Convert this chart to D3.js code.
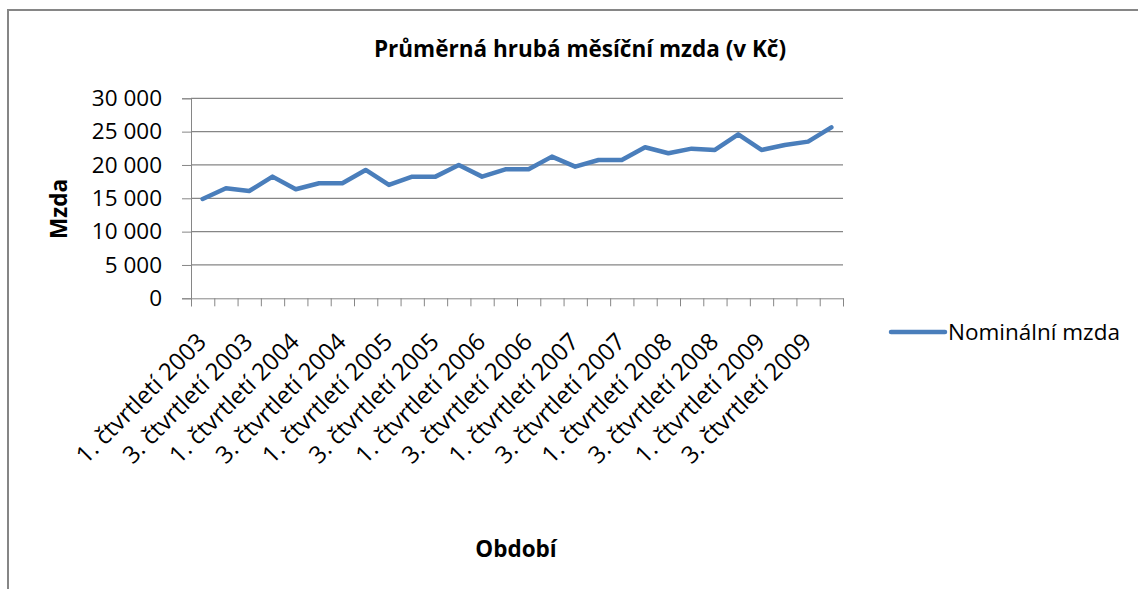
<!DOCTYPE html>
<html lang="cs">
<head>
<meta charset="UTF-8">
<title>Průměrná hrubá měsíční mzda</title>
<script src="https://cdn.jsdelivr.net/npm/d3@7"></script>
<style>
  body { margin: 0; background: #fff; }
  svg text { font-family: "Open Sans", sans-serif; fill: #000; }
</style>
</head>
<body>
<div id="chart"></div>
<script>
// quarters on the x axis
var quarters = [
  "1. čtvrtletí 2003", "2. čtvrtletí 2003", "3. čtvrtletí 2003", "4. čtvrtletí 2003",
  "1. čtvrtletí 2004", "2. čtvrtletí 2004", "3. čtvrtletí 2004", "4. čtvrtletí 2004",
  "1. čtvrtletí 2005", "2. čtvrtletí 2005", "3. čtvrtletí 2005", "4. čtvrtletí 2005",
  "1. čtvrtletí 2006", "2. čtvrtletí 2006", "3. čtvrtletí 2006", "4. čtvrtletí 2006",
  "1. čtvrtletí 2007", "2. čtvrtletí 2007", "3. čtvrtletí 2007", "4. čtvrtletí 2007",
  "1. čtvrtletí 2008", "2. čtvrtletí 2008", "3. čtvrtletí 2008", "4. čtvrtletí 2008",
  "1. čtvrtletí 2009", "2. čtvrtletí 2009", "3. čtvrtletí 2009", "4. čtvrtletí 2009"
];
// Nominální mzda (Kč)
var nominal = [
  14900, 16500, 16100, 18250,
  16350, 17250, 17250, 19250,
  17000, 18250, 18250, 20000,
  18250, 19350, 19350, 21250,
  19750, 20750, 20750, 22650,
  21750, 22450, 22250, 24600,
  22250, 23000, 23500, 25650
];
var yTicks = [0, 5000, 10000, 15000, 20000, 25000, 30000];
var seriesName = "Nominální mzda";

var W = 1138, H = 589;
var plotLeft = 191, plotRight = 843, plotTop = 98.3, plotBottom = 298.3;
var grey = "#868686", blue = "#4a7ebb";
var fs = 22.5;

var svg = d3.select("#chart").append("svg")
    .attr("width", W)
    .attr("height", H);

// outer frame (only top and left edge are visible)
svg.append("path")
    .attr("d", "M8," + H + "V10H" + W)
    .attr("fill", "none")
    .attr("stroke", grey)
    .attr("stroke-width", 2);

var x = d3.scaleBand().domain(quarters).range([plotLeft, plotRight]);
var xEdges = d3.scaleLinear().domain([0, quarters.length]).range([plotLeft, plotRight]);
var y = d3.scaleLinear().domain([0, 30000]).range([plotBottom, plotTop]);

var cz = d3.formatLocale({decimal: ",", thousands: " ", grouping: [3], currency: ["", " Kč"]});
var fmt = cz.format(",d");

// gridlines
svg.append("g").selectAll("line")
    .data(yTicks.slice(1))
    .enter()
    .append("line")
    .attr("x1", plotLeft)
    .attr("x2", plotRight)
    .attr("y1", function(d){ return y(d); })
    .attr("y2", function(d){ return y(d); })
    .attr("stroke", grey)
    .attr("stroke-width", 1.2);

// y axis
var yAxis = svg.append("g")
    .attr("transform", "translate(" + plotLeft + ",0)")
    .call(d3.axisLeft(y).tickValues(yTicks).tickSize(9).tickPadding(20).tickFormat(fmt));
yAxis.select(".domain").attr("stroke", grey);
yAxis.selectAll(".tick line").attr("stroke", grey);
yAxis.selectAll(".tick text")
    .attr("font-size", fs)
    .attr("font-family", "'Open Sans', sans-serif")
    .attr("fill", "#000");

// category axis with ticks between quarters
var xAxis = svg.append("g")
    .attr("transform", "translate(0," + plotBottom + ")")
    .call(d3.axisBottom(xEdges).tickValues(d3.range(quarters.length + 1)).tickSize(8).tickFormat(""));
xAxis.select(".domain").attr("stroke", grey);
xAxis.selectAll(".tick line").attr("stroke", grey);

svg.append("g").selectAll("text")
    .data(quarters.filter(function(d, i){ return i % 2 === 0; }))
    .enter()
    .append("text")
    .attr("text-anchor", "end")
    .attr("font-size", 24)
    .attr("transform", function(d){
        return "translate(" + (x(d) + x.bandwidth() / 2 + 5) + "," + (plotBottom + 45) + ") rotate(-45)";
    })
    .text(function(d){ return d; });

// series line
var line = d3.line()
    .x(function(d, i){ return x(quarters[i]) + x.bandwidth() / 2; })
    .y(function(d){ return y(d); });

svg.append("path")
    .datum(nominal)
    .attr("d", line)
    .attr("fill", "none")
    .attr("stroke", blue)
    .attr("stroke-width", 4.5)
    .attr("stroke-linejoin", "round")
    .attr("stroke-linecap", "round");

// titles
svg.append("text")
    .attr("x", 580)
    .attr("y", 57)
    .attr("text-anchor", "middle")
    .attr("font-size", fs)
    .attr("font-weight", "bold")
    .text("Průměrná hrubá měsíční mzda (v Kč)");

svg.append("text")
    .attr("transform", "translate(67,209) rotate(-90)")
    .attr("text-anchor", "middle")
    .attr("font-size", fs)
    .attr("font-weight", "bold")
    .text("Mzda");

svg.append("text")
    .attr("x", 516)
    .attr("y", 557)
    .attr("text-anchor", "middle")
    .attr("font-size", fs)
    .attr("font-weight", "bold")
    .text("Období");

// legend
var legend = svg.append("g")
    .attr("transform", "translate(891,332)");
legend.append("line")
    .attr("x1", 0)
    .attr("x2", 54)
    .attr("stroke", blue)
    .attr("stroke-width", 4.5)
    .attr("stroke-linecap", "round");
legend.append("text")
    .attr("x", 57)
    .attr("y", 8)
    .attr("font-size", fs)
    .text(seriesName);
</script>
</body>
</html>
